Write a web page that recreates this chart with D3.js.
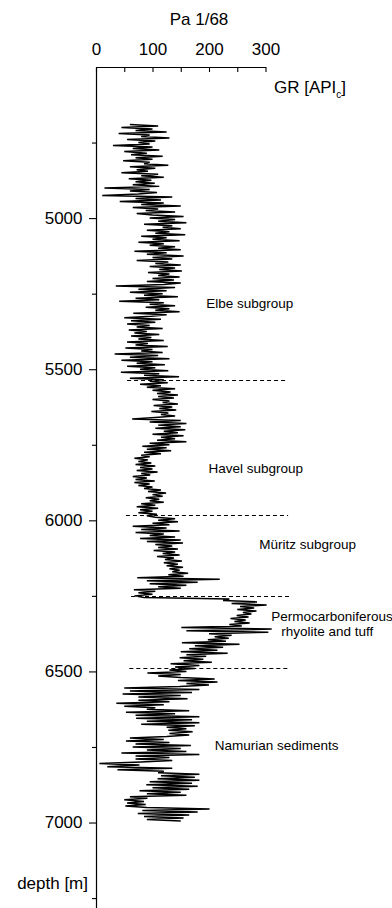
<!DOCTYPE html>
<html>
<head>
<meta charset="utf-8">
<script src="https://cdnjs.cloudflare.com/ajax/libs/d3/7.8.5/d3.min.js"></script>
<style>
body { margin: 0; background: #fff; }
svg { display: block; font-family: "Liberation Sans", Arial, Helvetica, sans-serif; }
</style>
</head>
<body>
<svg id="chart" width="392" height="908"></svg>
<script>
// gamma ray log of well Pa 1/68, one reading every 5 m starting at 4690 m
var depthTop = 4690;
var depthStep = 5;
var gr = [
  60, 110, 45, 100, 70, 125, 40, 95, 80, 130, 55, 105, 75, 95, 30, 100, 65, 112, 50, 90,       // 4690
  62, 118, 70, 100, 48, 95, 85, 128, 60, 105, 72, 92, 45, 110, 80, 120, 58, 98, 70, 104,       // 4790
  65, 112, 15, 95, 60, 108, 75, 11, 135, 70, 115, 42, 120, 80, 150, 65, 110, 88, 140, 72,      // 4890
  100, 155, 95, 140, 110, 160, 85, 135, 118, 150, 90, 130, 105, 158, 80, 125, 100, 148, 75, 120, // 4990
  95, 140, 110, 150, 68, 125, 90, 155, 100, 135, 72, 128, 105, 150, 95, 140, 112, 152, 92, 130,  // 5090
  110, 148, 100, 138, 90, 150, 120, 35, 140, 75, 125, 60, 118, 85, 145, 70, 112, 41, 120, 95,   // 5190
  140, 88, 130, 105, 148, 66, 125, 98, 50, 115, 62, 105, 55, 95, 72, 118, 58, 90, 68, 112,      // 5290
  62, 98, 75, 120, 55, 92, 70, 127, 52, 100, 80, 118, 33, 110, 60, 130, 45, 100, 72, 122,       // 5390
  55, 105, 78, 128, 44, 112, 85, 147, 60, 120, 95, 127, 78, 115, 90, 140, 100, 132, 108, 145,   // 5490
  110, 138, 100, 130, 118, 145, 102, 135, 112, 142, 98, 128, 115, 140, 105, 64, 150, 95, 160, 110, // 5590
  150, 105, 158, 120, 145, 100, 155, 115, 140, 108, 160, 95, 130, 82, 125, 90, 133, 85, 115, 80,  // 5690
  95, 68, 92, 75, 98, 70, 105, 78, 100, 72, 109, 80, 96, 65, 90, 70, 104, 68, 95, 75,           // 5790
  100, 85, 115, 92, 124, 100, 118, 88, 112, 95, 120, 80, 105, 72, 110, 78, 100, 75, 108, 90,    // 5890
  105, 140, 110, 145, 100, 130, 65, 125, 80, 148, 70, 120, 95, 140, 78, 150, 90, 154, 105, 135, // 5990
  110, 145, 102, 140, 118, 148, 108, 138, 122, 152, 120, 145, 125, 154, 130, 148, 135, 163, 128, 155, // 6090
  73, 219, 90, 180, 95, 160, 110, 150, 67, 105, 75, 100, 68, 85, 236, 225, 285, 240, 302, 255,  // 6190
  280, 250, 284, 260, 275, 249, 270, 238, 265, 245, 272, 236, 258, 151, 311, 160, 305, 200, 240, 210, // 6290
  235, 198, 230, 152, 254, 175, 225, 165, 215, 150, 233, 160, 195, 148, 190, 155, 205, 132, 183, 140, // 6390
  175, 130, 160, 91, 150, 110, 150, 210, 145, 215, 160, 200, 148, 50, 183, 60, 170, 47, 150, 75, // 6490
  162, 75, 130, 36, 120, 50, 105, 90, 165, 53, 140, 70, 183, 71, 170, 90, 183, 80, 175, 125,    // 6590
  160, 128, 171, 130, 165, 125, 60, 120, 53, 130, 70, 168, 65, 150, 90, 160, 45, 183, 70, 130,  // 6690
  70, 135, 80, 6, 77, 20, 135, 38, 120, 110, 183, 115, 175, 109, 183, 95, 170, 89, 180, 100,    // 6790
  165, 77, 150, 90, 160, 60, 91, 50, 85, 55, 88, 52, 90, 201, 82, 180, 74, 165, 85, 155,        // 6890
  90, 150                                                                                        // 6990
];

var grTicks = [0, 50, 100, 150, 200, 250, 300];
var grLabelled = [0, 100, 200, 300];
var depthTicks = [5000, 5500, 6000, 6500, 7000];
var depthMinor = [4750, 5250, 5750, 6250, 6750, 7250];

// formation boundaries (dashed lines)
var boundaryDepth = [5537, 5982, 6249, 6489];
var boundaryFrom = [55, 53, 62, 59];
var boundaryTo = [340, 340, 346, 340];

var unitNames = ["Elbe subgroup", "Havel subgroup", "Müritz subgroup",
                 "Permocarboniferous", "rhyolite and tuff", "Namurian sediments"];
var unitGr = [195, 199, 289, 310, 328, 210];
var unitDepth = [5297, 5843, 6094, 6333, 6382, 6759];

var svg = d3.select("#chart");

var x = d3.scaleLinear().domain([0, 300]).range([96, 265.5]);
var y = d3.scaleLinear().domain([4500, 7300]).range([67, 913.2]);

var logData = gr.map(function(v, i) {
    return { depth: depthTop + i * depthStep, gr: v };
});

// top axis, ticks pointing into the plot
var topAxis = svg.append("g")
    .attr("transform", "translate(0,67)")
    .call(d3.axisTop(x)
        .tickValues(grTicks)
        .tickSizeInner(-5)
        .tickSizeOuter(0)
        .tickPadding(12)
        .tickFormat(function(d) { return grLabelled.indexOf(d) >= 0 ? d : ""; }));
topAxis.attr("font-size", 17).attr("font-family", null);

// left axis
var leftAxis = svg.append("g")
    .attr("transform", "translate(96,0)")
    .call(d3.axisLeft(y)
        .tickValues(depthTicks)
        .tickSize(7)
        .tickSizeOuter(0)
        .tickPadding(6.5)
        .tickFormat(d3.format("d")));
leftAxis.attr("font-size", 17).attr("font-family", null);

svg.append("g")
    .attr("transform", "translate(96,0)")
    .call(d3.axisLeft(y)
        .tickValues(depthMinor)
        .tickSize(4)
        .tickFormat(""))
    .select(".domain").remove();

svg.selectAll(".tick line").attr("stroke-width", 1.1);
svg.selectAll(".domain").attr("stroke-width", 1.2);

// the log
svg.append("path")
    .datum(logData)
    .attr("fill", "none")
    .attr("stroke", "#000")
    .attr("stroke-width", 1.5)
    .attr("stroke-linejoin", "miter")
    .attr("stroke-miterlimit", 2)
    .attr("d", d3.line()
        .x(function(d) { return x(d.gr); })
        .y(function(d) { return y(d.depth); }));

// boundaries
svg.selectAll(".boundary")
    .data(boundaryDepth)
    .enter().append("line")
    .attr("class", "boundary")
    .attr("x1", function(d, i) { return x(boundaryFrom[i]); })
    .attr("x2", function(d, i) { return x(boundaryTo[i]); })
    .attr("y1", function(d) { return Math.round(y(d)) + 0.5; })
    .attr("y2", function(d) { return Math.round(y(d)) + 0.5; })
    .attr("stroke", "#000")
    .attr("stroke-width", 1)
    .attr("stroke-dasharray", "4,3");

// unit labels
svg.selectAll(".unit")
    .data(unitNames)
    .enter().append("text")
    .attr("class", "unit")
    .attr("x", function(d, i) { return x(unitGr[i]); })
    .attr("y", function(d, i) { return y(unitDepth[i]); })
    .attr("font-size", 13.5)
    .attr("fill", "#000")
    .text(function(d) { return d; });

// titles
svg.append("text")
    .attr("x", 199)
    .attr("y", 25)
    .attr("text-anchor", "middle")
    .attr("font-size", 17)
    .text("Pa 1/68");

var grTitle = svg.append("text")
    .attr("x", 274)
    .attr("y", 93)
    .attr("font-size", 17);
grTitle.append("tspan").text("GR [API");
grTitle.append("tspan").attr("font-size", 10).attr("dy", 5).text("c");
grTitle.append("tspan").attr("dy", -5).text("]");

svg.append("text")
    .attr("x", 88)
    .attr("y", 889)
    .attr("text-anchor", "end")
    .attr("font-size", 17)
    .text("depth [m]");
</script>
</body>
</html>
